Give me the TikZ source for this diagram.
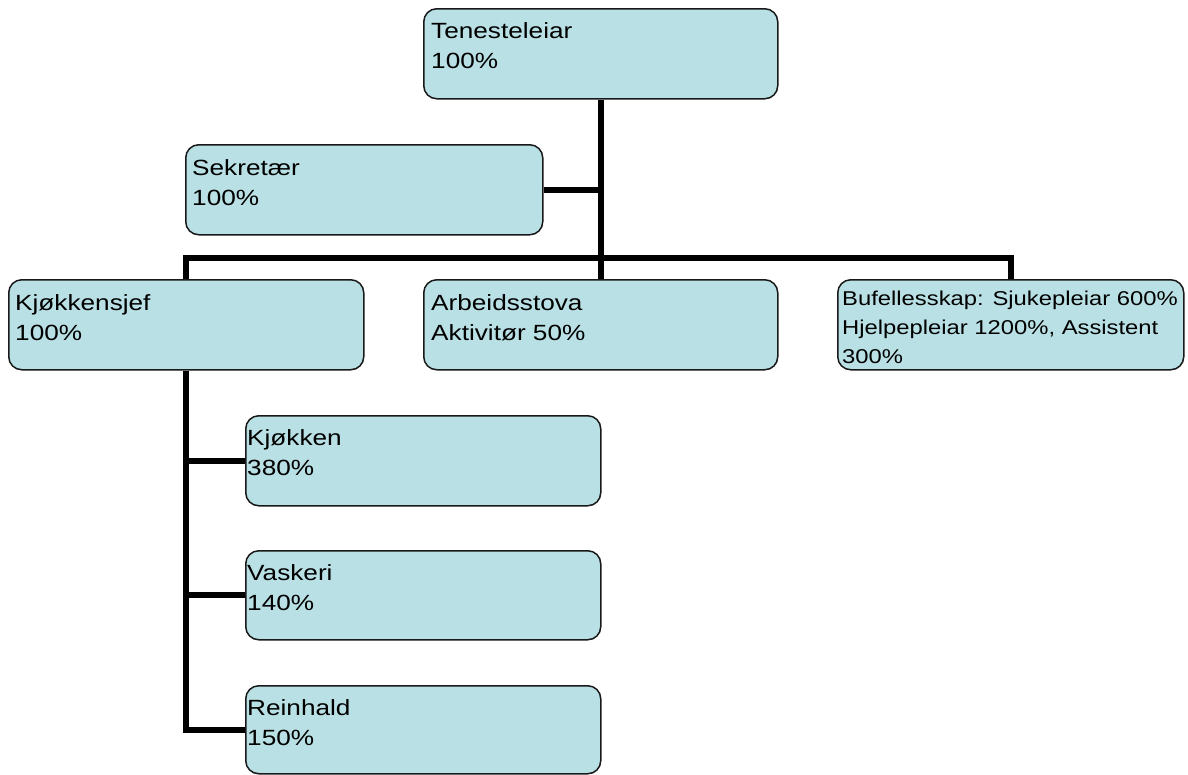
\documentclass[tikz,border=0pt]{standalone}
\usepackage{fontspec}
\setmainfont{Liberation Sans}
\newfontfamily\boxfont[FakeStretch=1.19]{Liberation Sans}
\usetikzlibrary{calc}
\definecolor{boxfill}{RGB}{185,224,228}
\definecolor{boxline}{RGB}{25,25,25}
\begin{document}
\begin{tikzpicture}[x=1pt,y=-1pt,
  box/.style={draw=boxline, line width=1.5pt, fill=boxfill, rounded corners=13pt,
    minimum width=#1, minimum height=90pt, inner sep=0pt, anchor=north west},
  box/.default=354pt,
  txt/.style={inner sep=0pt, anchor=base west, font=\boxfont\fontsize{22}{30}\selectfont},
  smalltxt/.style={inner sep=0pt, anchor=base west, font=\boxfont\fontsize{20}{29}\selectfont},
  conn/.style={draw=black, line width=6pt}]
\useasboundingbox (0,0) rectangle (1188,774);

% boxes
\node[box] (top) at (423,8) {};
\node[box=357pt] (sek) at (185,144) {};
\node[box=355pt] (kj) at (8,279) {};
\node[box] (arb) at (423,279) {};
\node[box=346pt] (buf) at (837,279) {};
\node[box=355pt] (kjk) at (245,415) {};
\node[box=355pt, minimum height=89pt] (vask) at (245,550) {};
\node[box=355pt, minimum height=88pt] (rein) at (245,685) {};

% connectors
\coordinate (bar) at (600,258);
\draw[conn] (top.south) -- (arb.north);
\draw[conn] (sek.east) -- (sek.east -| top.south);
\draw[conn] (kj.north) |- (bar) -| (buf.north);
\draw[conn] (kj.south) |- (rein.west);
\draw[conn] (kj.south |- kjk.west) -- (kjk.west);
\draw[conn] (kj.south |- vask.west) -- (vask.west);

% texts
\node[txt] (ttop) at ($(top.north west)+(8,30)$) {\parbox[t]{340pt}{Tenesteleiar\\100\%}};
\node[txt] (tsek) at ($(sek.north west)+(7,31)$) {\parbox[t]{340pt}{Sekretær\\100\%}};
\node[txt] (tkj) at ($(kj.north west)+(7,31)$) {\parbox[t]{340pt}{Kjøkkensjef\\100\%}};
\node[txt] (tarb) at ($(arb.north west)+(8,31)$) {\parbox[t]{340pt}{Arbeidsstova\\Aktivitør 50\%}};
\node[smalltxt] (tbuf) at ($(buf.north west)+(5,26)$) {\parbox[t]{345pt}{Bufellesskap: Sjukepleiar 600\%\\Hjelpepleiar 1200\%, Assistent\\300\%}};
\node[txt] (tkjk) at ($(kjk.north west)+(2,30)$) {\parbox[t]{340pt}{Kjøkken\\380\%}};
\node[txt] (tvask) at ($(vask.north west)+(2,30)$) {\parbox[t]{340pt}{Vaskeri\\140\%}};
\node[txt] (trein) at ($(rein.north west)+(2,30)$) {\parbox[t]{340pt}{Reinhald\\150\%}};
\end{tikzpicture}
\end{document}
